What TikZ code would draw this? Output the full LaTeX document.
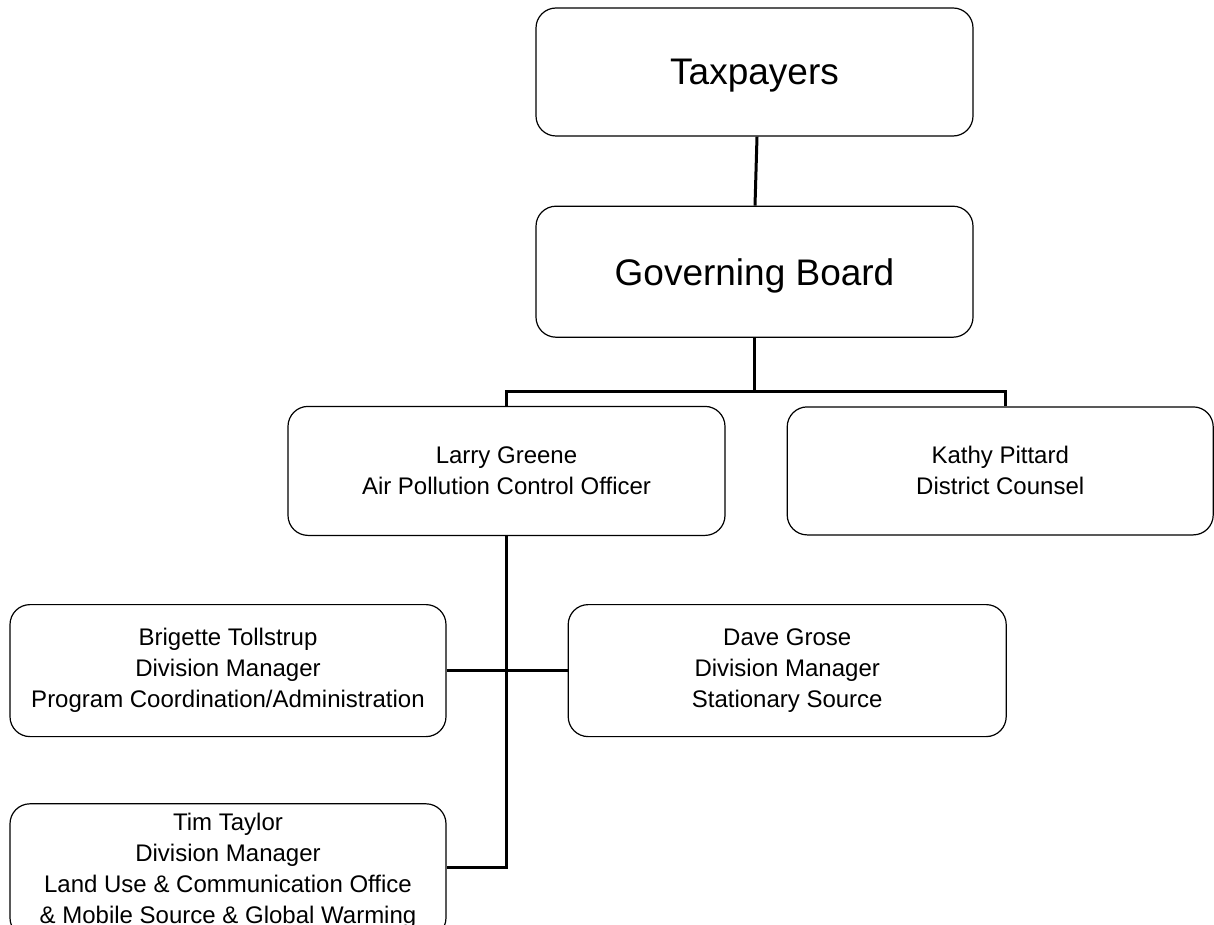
\documentclass[tikz,border=0pt]{standalone}
\usepackage{fontspec}
\setmainfont{Liberation Sans}
\usetikzlibrary{positioning}

\begin{document}
\begin{tikzpicture}[
    box/.style={
        draw=black, line width=1.2pt,
        rectangle, rounded corners=20pt,
        minimum width=437pt, minimum height=130pt,
        inner sep=0pt, align=center,
        font={\fontsize{24}{31}\selectfont}
    },
    topbox/.style={
        box, text depth=0pt, font={\fontsize{37}{44}\selectfont}
    },
    conn/.style={
        line width=3pt, draw=black
    },
]
\useasboundingbox (0,0) rectangle (1214pt,-925pt);

\node[topbox, minimum height=128pt] (taxpayers) at (754.5pt,-72pt) {Taxpayers};
\node[topbox, minimum height=131pt, below=69pt of taxpayers] (board) {Governing Board};
\node[box, minimum height=129pt, below=68pt of board, xshift=-248pt] (larry) {Larry Greene\\Air Pollution Control Officer};
\node[box, minimum width=426pt, minimum height=128pt, right=61pt of larry] (kathy) {Kathy Pittard\\District Counsel};
\node[box, minimum width=436pt, minimum height=132pt, below=68pt of larry, xshift=-278.5pt] (brigette) {Brigette Tollstrup\\Division Manager\\Program Coordination/Administration};
\node[box, minimum width=438pt, minimum height=132pt, right=121pt of brigette] (dave) {Dave Grose\\Division Manager\\Stationary Source};
\node[box, minimum width=436pt, minimum height=134pt, below=66pt of brigette] (tim) {Tim Taylor\\Division Manager\\Land Use \& Communication Office\\\& Mobile Source \& Global Warming};

% reporting lines
\draw[conn] ([xshift=2.5pt]taxpayers.south) -- ([xshift=0.5pt]board.north);
\draw[conn] (board.south) -- ++(0,-54pt) coordinate (bus);
\draw[conn] (larry.north) |- (bus) -| ([xshift=5pt]kathy.north);
\draw[conn] (larry.south) |- ([yshift=3pt]tim.east);
\draw[conn] (brigette) -- (dave);
\end{tikzpicture}
\end{document}
